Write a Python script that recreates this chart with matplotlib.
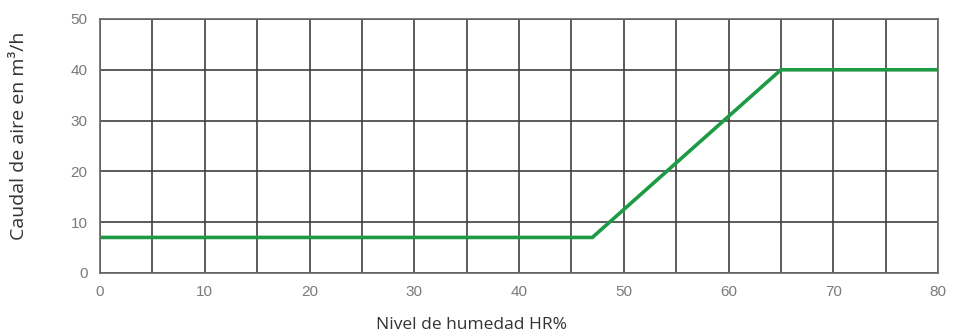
import numpy as np
import matplotlib.pyplot as plt

# datos de la curva
humedad = [0, 47, 65, 80]
caudal = [7, 7, 40, 40]
xticks = [0, 10, 20, 30, 40, 50, 60, 70, 80]
yticks = [0, 10, 20, 30, 40, 50]

fig = plt.figure(figsize=(9.54, 3.36), dpi=100)
ax = fig.add_axes([0.1048, 0.1875, 0.8785, 0.756])

ax.set_xlim(0, 80)
ax.set_ylim(0, 50)
ax.set_xticks(xticks)
ax.set_yticks(yticks)
ax.set_xticks(np.arange(0, 81, 5), minor=True)

ax.grid(which="both", axis="x", color="#3f3f3f", linewidth=1.2)
ax.grid(which="major", axis="y", color="#3f3f3f", linewidth=1.2)
ax.set_axisbelow(True)

ax.plot(humedad, caudal, color="#1e9a44", linewidth=2.6, solid_joinstyle="miter")

for s in ax.spines.values():
    s.set_color("#666666")
    s.set_linewidth(1.2)

ax.tick_params(which="both", length=0, labelsize=11, labelcolor="#7a7a7a", pad=9)
for lab in ax.get_xticklabels() + ax.get_yticklabels():
    lab.set_family("Liberation Sans")

ax.set_xlabel("Nivel de humedad HR%", fontsize=12.5, color="#333333",
              family="Open Sans")
ax.set_ylabel("Caudal de aire en m³/h", fontsize=14, color="#333333",
              family="Open Sans")
ax.xaxis.set_label_coords(0.443, -0.172)
ax.yaxis.set_label_coords(-0.086, 0.54)

fig.savefig("out.png", dpi=100)
